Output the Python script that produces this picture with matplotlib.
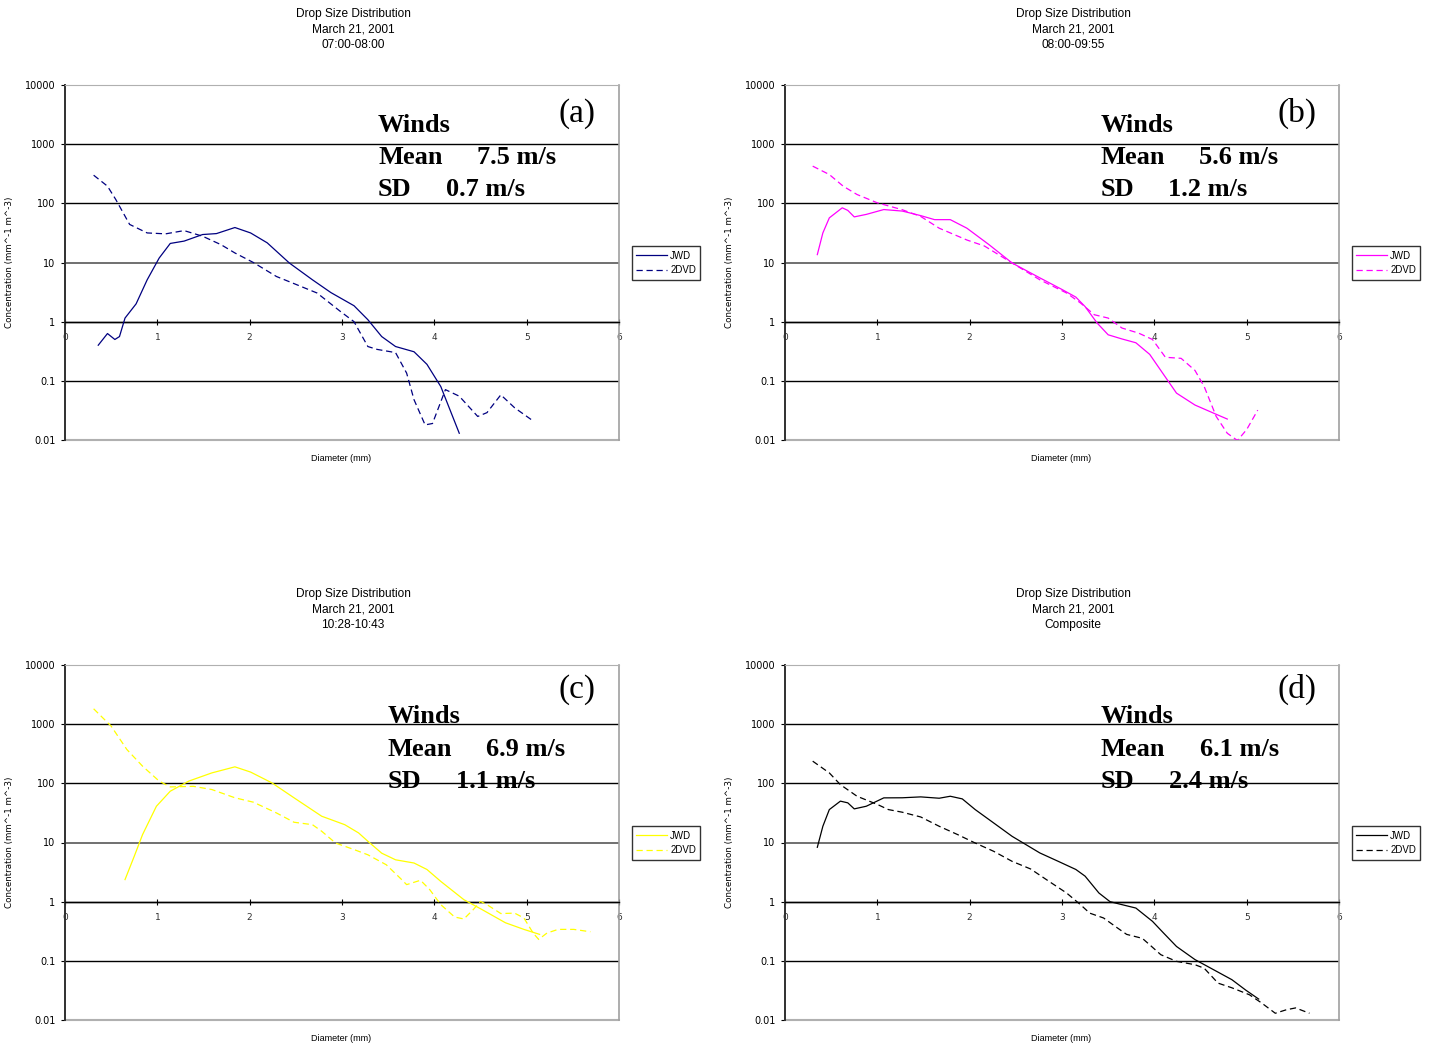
import matplotlib.pyplot as plt
import numpy as np
from matplotlib.patches import Rectangle

# ---- panel (a) 07:00-08:00 ----
a_jwd_d = [0.36, 0.46, 0.54, 0.59, 0.65, 0.77, 0.89, 1.02, 1.14, 1.29, 1.49, 1.64, 1.84, 2.01, 2.19,
           2.43, 2.68, 2.88, 3.13, 3.28, 3.43, 3.58, 3.78, 3.92, 4.07, 4.27]
a_jwd_n = [0.40, 0.63, 0.50, 0.56, 1.15, 2.0, 5.1, 11.9, 21, 23, 29.7, 30.8, 39, 31.6, 21.5,
           9.8, 5.1, 3.1, 1.86, 1.08, 0.56, 0.38, 0.31, 0.19, 0.08, 0.013]
a_dvd_d = [0.31, 0.46, 0.55, 0.70, 0.89, 1.09, 1.29, 1.49, 1.69, 1.84, 2.04, 2.29, 2.48, 2.73, 2.98,
           3.13, 3.28, 3.38, 3.58, 3.70, 3.78, 3.90, 3.98, 4.12, 4.27, 4.47, 4.57, 4.72, 4.87, 5.07]
a_dvd_n = [299, 195, 116, 44, 31.6, 30.5, 34.6, 27.8, 20, 14.5, 10, 5.8, 4.4, 3.05, 1.5,
           1.0, 0.38, 0.34, 0.30, 0.135, 0.048, 0.018, 0.019, 0.071, 0.055, 0.025, 0.029, 0.058, 0.035, 0.021]

# ---- panel (b) 08:00-09:55 ----
b_jwd_d = [0.35, 0.41, 0.48, 0.62, 0.68, 0.75, 0.88, 1.07, 1.27, 1.47, 1.62, 1.79, 1.97, 2.21, 2.46,
           2.76, 3.0, 3.15, 3.25, 3.38, 3.5, 3.65, 3.80, 3.95, 4.09, 4.24, 4.44, 4.64, 4.79]
b_jwd_n = [13.6, 31.6, 56.8, 84, 76, 59, 65, 78.5, 74, 62, 53, 53, 38, 20, 9.8,
           5.5, 3.5, 2.6, 1.8, 0.95, 0.60, 0.51, 0.44, 0.28, 0.135, 0.062, 0.039, 0.0285, 0.0226]
b_dvd_d = [0.30, 0.48, 0.63, 0.78, 1.0, 1.27, 1.47, 1.67, 1.97, 2.16, 2.46, 2.76, 3.05, 3.2, 3.35,
           3.5, 3.65, 3.83, 3.98, 4.12, 4.29, 4.44, 4.54, 4.67, 4.79, 4.9, 5.0, 5.12]
b_dvd_n = [425, 307, 195, 141, 102, 78, 60, 38, 24, 19, 9.8, 5.1, 3.05, 2.07, 1.31,
           1.15, 0.78, 0.64, 0.50, 0.25, 0.24, 0.15, 0.08, 0.025, 0.013, 0.0098, 0.015, 0.032]

# ---- panel (c) 10:28-10:43 ----
c_jwd_d = [0.65, 0.75, 0.84, 0.99, 1.14, 1.34, 1.59, 1.84, 2.01, 2.24, 2.48, 2.78, 3.03, 3.18, 3.28,
           3.43, 3.58, 3.78, 3.92, 4.07, 4.32, 4.52, 4.77, 4.97, 5.14]
c_jwd_n = [2.36, 5.85, 13.6, 41, 73.6, 109, 150, 190, 155, 102, 57, 27.8, 20, 14.5, 10.5,
           6.6, 5.1, 4.5, 3.5, 2.2, 1.08, 0.73, 0.44, 0.34, 0.28]
c_dvd_d = [0.31, 0.50, 0.67, 0.84, 1.02, 1.14, 1.39, 1.59, 1.84, 2.04, 2.29, 2.48, 2.68, 2.78, 2.93,
           3.13, 3.28, 3.48, 3.63, 3.70, 3.85, 3.95, 4.07, 4.22, 4.32, 4.42, 4.50, 4.57, 4.72, 4.87,
           4.97, 5.07, 5.13, 5.22, 5.34, 5.51, 5.69]
c_dvd_n = [1820, 926, 373, 195, 109, 87, 89, 78.6, 57, 48, 31.6, 22, 20, 15.5, 9.8,
           7.6, 6.2, 4.2, 2.5, 1.94, 2.3, 1.6, 0.89, 0.55, 0.51, 0.73, 1.01, 0.89, 0.63, 0.64,
           0.53, 0.295, 0.23, 0.295, 0.34, 0.34, 0.31]

# ---- panel (d) composite ----
d_jwd_d = [0.35, 0.41, 0.48, 0.60, 0.68, 0.75, 0.88, 1.07, 1.27, 1.47, 1.67, 1.79, 1.92, 2.06, 2.26,
           2.46, 2.76, 2.96, 3.15, 3.25, 3.40, 3.52, 3.65, 3.80, 3.98, 4.10, 4.24, 4.44, 4.64, 4.84,
           4.99, 5.13]
d_jwd_n = [8.3, 18.8, 36, 50, 46.8, 37, 41, 56.8, 57, 59, 56, 60.5, 54.6, 36, 21.4,
           12.7, 6.66, 4.8, 3.5, 2.7, 1.4, 1.0, 0.89, 0.78, 0.465, 0.295, 0.175, 0.105, 0.071, 0.048,
           0.032, 0.0226]
d_dvd_d = [0.30, 0.48, 0.60, 0.78, 1.0, 1.12, 1.27, 1.47, 1.67, 1.87, 2.06, 2.26, 2.46, 2.66, 2.86,
           3.05, 3.2, 3.30, 3.45, 3.60, 3.70, 3.87, 3.97, 4.07, 4.24, 4.44, 4.54, 4.69, 4.84, 5.03,
           5.16, 5.31, 5.43, 5.53, 5.68]
d_dvd_n = [237, 150, 95, 60.5, 44, 36, 32.5, 27, 18.8, 13.6, 9.8, 7.1, 4.8, 3.57, 2.2,
           1.4, 0.89, 0.64, 0.53, 0.36, 0.28, 0.24, 0.175, 0.127, 0.098, 0.086, 0.075, 0.042, 0.035, 0.0267,
           0.0195, 0.013, 0.0149, 0.016, 0.013]

titles = ["07:00-08:00", "08:00-09:55", "10:28-10:43", "Composite"]
panel_tags = ["(a)", "(b)", "(c)", "(d)"]
wind_mean = ["7.5 m/s", "5.6 m/s", "6.9 m/s", "6.1 m/s"]
wind_sd = ["0.7 m/s", "1.2 m/s", "1.1 m/s", "2.4 m/s"]
colors = ["#000080", "#ff00ff", "#ffff00", "#000000"]
yticks = [0.01, 0.1, 1, 10, 100, 1000, 10000]
ytick_labels = ["0.01", "0.1", "1", "10", "100", "1000", "10000"]

panels = [
    (a_jwd_d, a_jwd_n, a_dvd_d, a_dvd_n),
    (b_jwd_d, b_jwd_n, b_dvd_d, b_dvd_n),
    (c_jwd_d, c_jwd_n, c_dvd_d, c_dvd_n),
    (d_jwd_d, d_jwd_n, d_dvd_d, d_dvd_n),
]

W, H = 1436, 1046
fig = plt.figure(figsize=(W / 100, H / 100), dpi=100)
fig.patch.set_facecolor("white")

# axes boxes in pixels: left, top, right, bottom
boxes = [(65, 85, 619, 440), (785, 85, 1339, 440), (65, 665, 619, 1020), (785, 665, 1339, 1020)]
# text positions (axes fraction)
winds_x = [0.565, 0.570, 0.583, 0.570]
mean_val_x = [0.744, 0.747, 0.760, 0.749]
sd_val_x = [0.688, 0.691, 0.706, 0.693]
text_y = [(0.885, 0.795, 0.705), (0.885, 0.795, 0.705), (0.854, 0.761, 0.671), (0.854, 0.761, 0.671)]
tag_y = [0.92, 0.92, 0.93, 0.93]

small = ["DejaVu Sans"]
sans = ["Liberation Sans", "DejaVu Sans"]
narrow = ["Liberation Sans Narrow", "Liberation Sans", "DejaVu Sans"]
serif = ["Liberation Serif", "DejaVu Serif"]

for i, (jd, jn, dd, dn) in enumerate(panels):
    l, t, r, b = boxes[i]
    ax = fig.add_axes([l / W, (H - b) / H, (r - l) / W, (b - t) / H])
    ax.set_yscale("log")
    ax.set_xlim(0, 6)
    ax.set_ylim(0.01, 10000)

    for yv in [0.1, 1, 1000, 100]:
        ax.axhline(yv, color="black", lw=1.0, zorder=1)
    ax.axhline(10, color="#707070", lw=1.4, zorder=1)

    ax.plot(jd, jn, color=colors[i], lw=0.9, label="JWD", zorder=3)
    ax.plot(dd, dn, color=colors[i], lw=0.9, dashes=(5, 3), label="2DVD", zorder=3)

    # excel-like frame, x axis crossing at y = 1
    ax.spines["bottom"].set_position(("data", 1))
    ax.spines["bottom"].set_color("black")
    ax.spines["bottom"].set_linewidth(1.0)
    ax.spines["top"].set_color("#b0b0b0")
    ax.spines["right"].set_color("#a0a0a0")
    ax.spines["right"].set_linewidth(1.2)
    ax.spines["left"].set_color("#303030")
    ax.spines["left"].set_linewidth(1.4)
    ax.add_patch(Rectangle((0, 0), 1, 0.002, transform=ax.transAxes, facecolor="#b0b0b0",
                           edgecolor="#b0b0b0", lw=0.8, clip_on=False, zorder=2))

    ax.set_xticks(range(7))
    ax.set_xticklabels([str(v) for v in range(7)], fontsize=6.5, family=small, color="#303030")
    ax.tick_params(axis="x", direction="inout", length=4, width=0.8, pad=6)
    ax.set_yticks(yticks)
    ax.set_yticklabels(ytick_labels, fontsize=7, family=small)
    ax.yaxis.set_minor_locator(plt.NullLocator())
    ax.tick_params(axis="y", direction="out", length=3, width=0.8, pad=4)

    ax.set_ylabel("Concentration (mm^-1 m^-3)", fontsize=6.3, family=small)
    ax.yaxis.set_label_coords(-0.092, 0.5)
    ax.set_xlabel("Diameter (mm)", fontsize=6.5, family=sans)
    ax.xaxis.set_label_coords(0.498, -0.04)

    ax.text(0.52, 1.156, "Drop Size Distribution\nMarch 21, 2001\n" + titles[i],
            transform=ax.transAxes, ha="center", va="center", fontsize=8.6,
            family=sans, linespacing=1.42)

    wy, my, sy = text_y[i]
    tkw = dict(transform=ax.transAxes, va="center", ha="left", fontsize=19,
               family=serif, fontweight="bold", zorder=4)
    ax.text(winds_x[i], wy, "Winds", **tkw)
    ax.text(winds_x[i], my, "Mean", **tkw)
    ax.text(mean_val_x[i], my, wind_mean[i], **tkw)
    ax.text(winds_x[i], sy, "SD", **tkw)
    ax.text(sd_val_x[i], sy, wind_sd[i], **tkw)
    ax.text(0.924, tag_y[i], panel_tags[i], transform=ax.transAxes, ha="center", va="center",
            fontsize=24, family=serif, zorder=4)

    leg = ax.legend(loc="center left", bbox_to_anchor=(1.023, 0.4986),
                    frameon=True, fancybox=False, edgecolor="black", handlelength=3.2,
                    borderpad=0.45, labelspacing=0.45, handletextpad=0.3,
                    borderaxespad=0, prop={"family": narrow, "size": 7})
    leg.get_frame().set_linewidth(1.0)

fig.savefig("out.png", dpi=100, facecolor="white")
